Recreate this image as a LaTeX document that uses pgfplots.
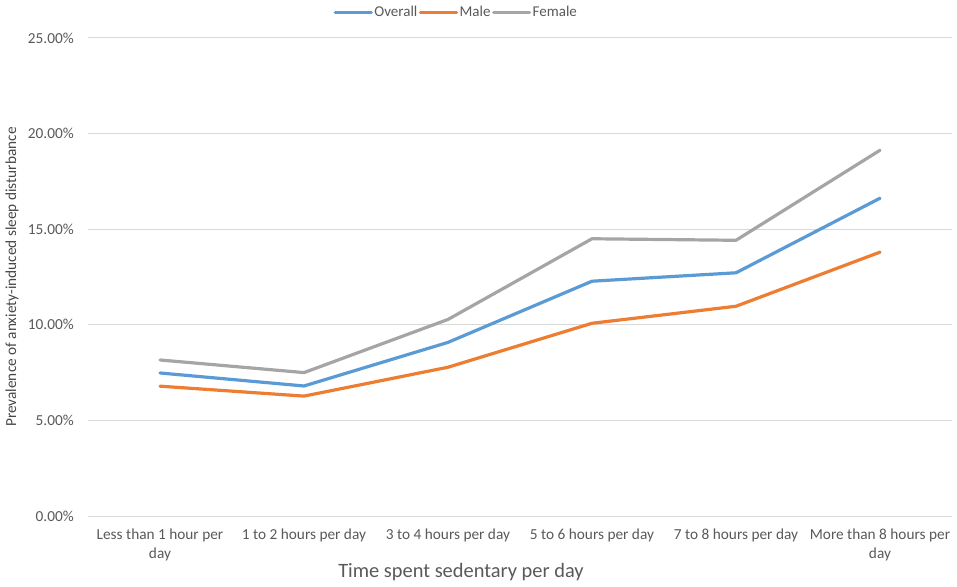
\documentclass[border=0pt]{standalone}
\usepackage{fontspec}
\setmainfont{Carlito}
\usepackage{pgfplots}
\pgfplotsset{compat=1.18}
\definecolor{cOverall}{HTML}{5B9BD5}
\definecolor{cMale}{HTML}{ED7D31}
\definecolor{cFemale}{HTML}{A5A5A5}
\definecolor{txt}{HTML}{595959}
\definecolor{grd}{HTML}{D9D9D9}
\begin{document}
\begin{tikzpicture}
\useasboundingbox (-88bp,-71bp) rectangle (869bp,516bp);
\begin{axis}[
 scale only axis, width=864bp, height=478bp,
 xmin=-0.5, xmax=5.5, ymin=0, ymax=25,
 xtick={0,1,2,3,4,5},
 xticklabels={{Less than 1 hour per\\day},{1 to 2 hours per day},{3 to 4 hours per day},{5 to 6 hours per day},{7 to 8 hours per day},{More than 8 hours per\\day}},
 ytick={0,5,10,15,20,25},
 yticklabels={0.00\%,5.00\%,10.00\%,15.00\%,20.00\%,25.00\%},
 ymajorgrids, grid style={grd, line width=1bp},
 axis line style={draw=none},
 major tick length=0pt,
 tick label style={font=\fontsize{15.3bp}{18.5bp}\selectfont, text=txt},
 xticklabel style={align=center, anchor=north, inner sep=0pt, yshift=-13bp},
 yticklabel style={anchor=east, inner sep=0pt, xshift=-14bp},
 xlabel={Time spent sedentary per day},
 xlabel style={at={(axis description cs:0.4317,-0.117)}, anchor=center, font=\fontsize{20.4bp}{24bp}\selectfont, text=txt},
 ylabel={Prevalence of anxiety-induced sleep disturbance},
 ylabel style={at={(axis description cs:-0.088,0.5)}, anchor=center, font=\fontsize{15.3bp}{18bp}\selectfont, text=txt!80!black},
 legend columns=3,
 legend style={at={(axis description cs:0.426,1.054)}, anchor=center, draw=none, fill=none, font=\fontsize{15bp}{18bp}\selectfont, text=txt, inner sep=0pt, nodes={inner xsep=1.5bp}},
 legend image code/.code={\draw[#1] (0bp,0bp) -- (36bp,0bp);},
 every axis plot/.append style={line width=3.2bp, line join=round, line cap=round},
]
\addplot[cOverall] coordinates {(0,7.48) (1,6.80) (2,9.08) (3,12.28) (4,12.72) (5,16.62)};
\addlegendentry{Overall\hspace{12bp}}
\addplot[cMale] coordinates {(0,6.79) (1,6.27) (2,7.78) (3,10.08) (4,10.97) (5,13.80)};
\addlegendentry{Male\hspace{12bp}}
\addplot[cFemale] coordinates {(0,8.16) (1,7.50) (2,10.28) (3,14.50) (4,14.42) (5,19.13)};
\addlegendentry{Female}
\end{axis}
\end{tikzpicture}
\end{document}
